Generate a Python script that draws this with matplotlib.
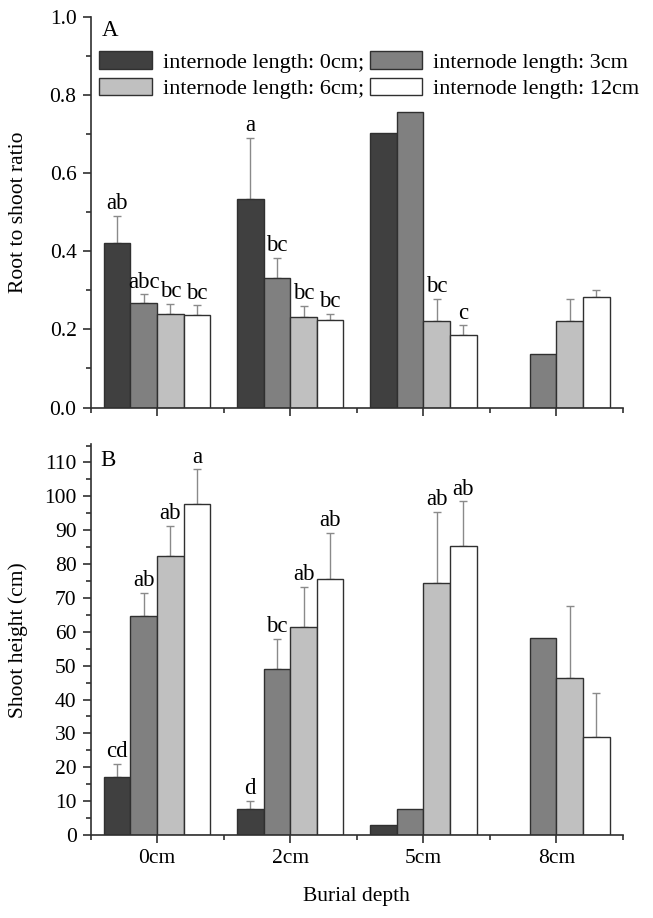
import matplotlib
matplotlib.use('Agg')
import matplotlib.pyplot as plt
import numpy as np
from matplotlib.ticker import MultipleLocator

plt.rcParams['font.family'] = ['Liberation Serif', 'DejaVu Serif']

depths = ['0cm', '2cm', '5cm', '8cm']
series = ['internode length: 0cm;', 'internode length: 3cm',
          'internode length: 6cm;', 'internode length: 12cm']
colors = ['#404040', '#808080', '#c0c0c0', '#ffffff']

# root to shoot ratio, rows = internode length, cols = burial depth
ratio = [[0.422, 0.535, 0.704, np.nan],
         [0.268, 0.332, 0.757, 0.137],
         [0.239, 0.232, 0.221, 0.221],
         [0.236, 0.223, 0.186, 0.283]]
ratio_se = [[0.069, 0.156, 0, 0],
            [0.022, 0.051, 0, 0],
            [0.027, 0.028, 0.057, 0.057],
            [0.026, 0.017, 0.024, 0.019]]
ratio_lab = [['ab', 'a', '', ''],
             ['abc', 'bc', '', ''],
             ['bc', 'bc', 'bc', ''],
             ['bc', 'bc', 'c', '']]

# shoot height (cm)
height = [[17.2, 7.7, 2.9, np.nan],
          [64.7, 49.1, 7.8, 58.1],
          [82.3, 61.4, 74.3, 46.4],
          [97.6, 75.6, 85.3, 28.9]]
height_se = [[3.9, 2.4, 0, 0],
             [6.8, 8.9, 0, 0],
             [8.9, 11.8, 21.1, 21.2],
             [10.4, 13.6, 13.2, 12.9]]
height_lab = [['cd', 'd', '', ''],
              ['ab', 'bc', '', ''],
              ['ab', 'ab', 'ab', ''],
              ['a', 'ab', 'ab', '']]

fig = plt.figure(figsize=(6.53, 9.18), dpi=100)
ax1 = fig.add_axes([0.1386, 0.5561, 0.8155, 0.4254])
ax2 = fig.add_axes([0.1386, 0.0904, 0.8155, 0.4254])

w = 0.2
x = np.arange(len(depths))


def draw(ax, vals, ses, labs, pad):
    handles = []
    for i in range(4):
        v = np.array(vals[i], dtype=float)
        s = np.array(ses[i], dtype=float)
        xi = x + (i - 1.5) * w
        m = ~np.isnan(v)
        h = ax.bar(xi[m], v[m], width=w, color=colors[i], edgecolor='#303030',
                   linewidth=1.0, label=series[i], zorder=2)
        handles.append(h)
        e = m & (s > 0)
        ax.errorbar(xi[e], v[e], yerr=[np.zeros(e.sum()), s[e]], fmt='none',
                    ecolor='#8a8a8a', elinewidth=1.0, capsize=3, capthick=1.0,
                    zorder=1)
        for j in range(len(depths)):
            if labs[i][j]:
                ax.text(xi[j], v[j] + s[j] + pad, labs[i][j], ha='center',
                        va='bottom', fontsize=16.5)
    ax.set_xlim(-0.5, 3.5)
    ax.set_xticks(x)
    ax.xaxis.set_minor_locator(MultipleLocator(0.5))
    ax.spines['top'].set_visible(False)
    ax.spines['right'].set_visible(False)
    for sp in ['left', 'bottom']:
        ax.spines[sp].set_linewidth(1.2)
        ax.spines[sp].set_color('#303030')
    ax.tick_params(which='major', direction='out', length=6, width=1.2, pad=4,
                   labelsize=15.5, colors='#303030', labelcolor='black')
    ax.tick_params(which='minor', direction='out', length=3.5, width=1.2,
                   colors='#303030')
    return handles


hs = draw(ax1, ratio, ratio_se, ratio_lab, 0.004)
ax1.set_ylim(0, 1.0)
ax1.yaxis.set_major_locator(MultipleLocator(0.2))
ax1.yaxis.set_minor_locator(MultipleLocator(0.1))
ax1.yaxis.set_major_formatter(matplotlib.ticker.FormatStrFormatter('%.1f'))
ax1.set_xticklabels([])
ax1.set_ylabel('Root to shoot ratio', fontsize=15.5)
ax1.yaxis.set_label_coords(-0.117, 0.5)
ax1.text(0.021, 0.992, 'A', transform=ax1.transAxes, fontsize=16.5, va='top')
ax1.legend([hs[0], hs[2], hs[1], hs[3]],
           [series[0], series[2], series[1], series[3]],
           ncol=2, frameon=False, fontsize=16, loc='upper left',
           bbox_to_anchor=(0.0, 0.935), handlelength=2.35, handleheight=0.85,
           columnspacing=0.25, handletextpad=0.5, labelspacing=0.22,
           borderaxespad=0)

draw(ax2, height, height_se, height_lab, 0.5)
ax2.set_ylim(0, 115.3)
ax2.yaxis.set_major_locator(MultipleLocator(10))
ax2.yaxis.set_minor_locator(MultipleLocator(5))
ax2.set_xticklabels(depths)
ax2.set_ylabel('Shoot height (cm)', fontsize=15.5)
ax2.yaxis.set_label_coords(-0.117, 0.5)
ax2.set_xlabel('Burial depth', fontsize=15.5, labelpad=14)
ax2.text(0.019, 0.985, 'B', transform=ax2.transAxes, fontsize=16.5, va='top')

fig.savefig('out.png', dpi=100)
